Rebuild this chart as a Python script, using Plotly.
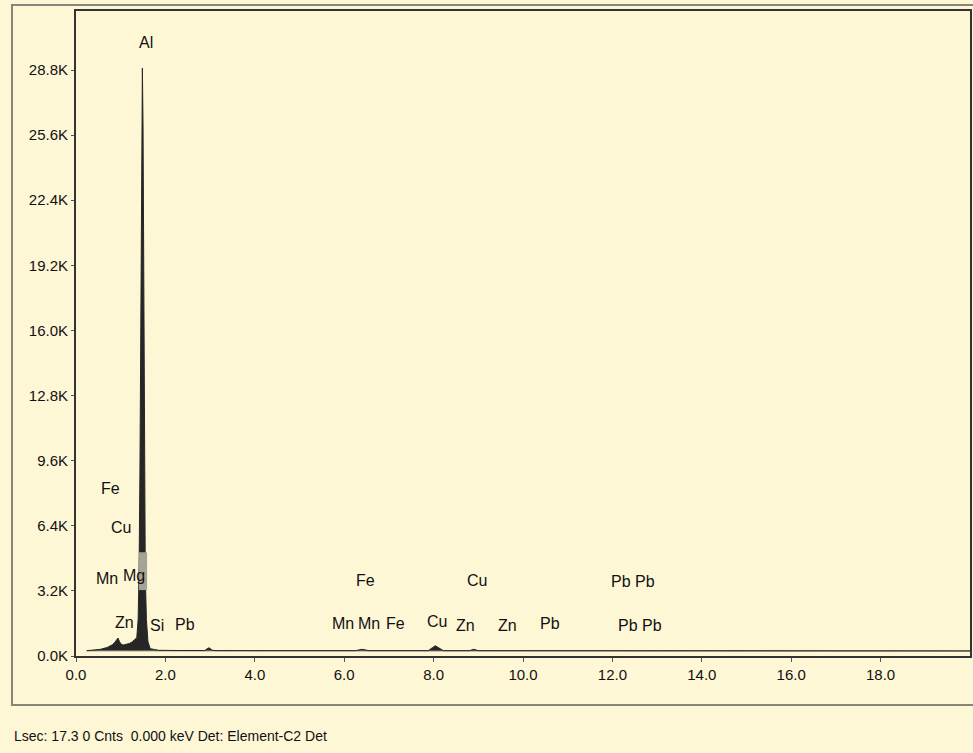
import plotly.graph_objects as go

# ---- data ----
energy_kev = [0.24, 0.40, 0.55, 0.70, 0.76, 0.82, 0.87, 0.91, 0.94, 0.97, 1.01, 1.06, 1.12,
              1.20, 1.26, 1.31, 1.36, 1.39, 1.41, 1.43, 1.45, 1.47, 1.485, 1.50, 1.52,
              1.535, 1.55, 1.575, 1.61, 1.66, 1.74, 1.85, 2.30, 2.88, 2.95, 2.98, 3.05,
              3.15, 6.25, 6.40, 6.55, 7.88, 7.98, 8.04, 8.10, 8.22, 8.80, 8.90, 9.00,
              12.0, 16.0, 20.0]
counts = [260, 290, 330, 420, 490, 560, 680, 820, 880, 720, 580, 540, 560,
          620, 700, 790, 900, 1800, 4000, 9000, 16000, 26000, 28900, 26000, 16000,
          9000, 4000, 1800, 700, 360, 310, 280, 270, 270, 380, 400, 280,
          265, 262, 330, 262, 262, 420, 500, 420, 262, 262, 330, 262,
          260, 255, 250]

background_kev = [0.24, 20.0]
background_counts = [255, 245]

x_tick_vals = [0, 2, 4, 6, 8, 10, 12, 14, 16, 18]
x_tick_text = ["0.0", "2.0", "4.0", "6.0", "8.0", "10.0", "12.0", "14.0", "16.0", "18.0"]
y_tick_vals = [0, 3200, 6400, 9600, 12800, 16000, 19200, 22400, 25600, 28800]
y_tick_text = ["0.0K", "3.2K", "6.4K", "9.6K", "12.8K", "16.0K", "19.2K", "22.4K", "25.6K", "28.8K"]

label_text = ["Al", "Fe", "Cu", "Mn", "Mg", "Zn", "Si", "Pb",
              "Fe", "Mn", "Mn", "Fe", "Cu", "Zn", "Cu", "Zn", "Pb",
              "Pb Pb", "Pb Pb"]
label_kev = [1.567, 0.761, 1.007, 0.694, 1.298, 1.075, 1.813, 2.440,
             6.47, 5.98, 6.56, 7.14, 8.08, 8.71, 8.98, 9.65, 10.61,
             12.45, 12.62]
label_counts = [30170, 8210, 6340, 3830, 3980, 1670, 1520, 1570,
                3730, 1620, 1620, 1620, 1720, 1520, 3730, 1520, 1620,
                3640, 1520]

status_text = "Lsec: 17.3 0 Cnts  0.000 keV Det: Element-C2 Det"

FONT = "Liberation Sans Narrow, Liberation Sans, Arial, sans-serif"
BG = "#FEF7D6"

fig = go.Figure()
fig.add_trace(go.Scatter(x=background_kev, y=background_counts, mode="lines",
                         line=dict(color="#6b6b60", width=1), hoverinfo="skip",
                         showlegend=False))
fig.add_trace(go.Scatter(x=energy_kev, y=counts, mode="lines", fill="tonexty",
                         fillcolor="#262626", line=dict(color="#262626", width=1),
                         showlegend=False))

for t, xv, yv in zip(label_text, label_kev, label_counts):
    fig.add_annotation(x=xv, y=yv, text=t, showarrow=False, xref="x", yref="y",
                       font=dict(family=FONT, size=16, color="#111111"))

fig.add_annotation(x=-0.0716, y=-0.124, xref="paper", yref="paper", text=status_text,
                   showarrow=False, xanchor="left", yanchor="middle",
                   font=dict(family=FONT, size=14, color="#111111"))

# Mg highlight box on the Al peak
fig.add_shape(type="rect", xref="x", yref="y", x0=1.41, x1=1.59, y0=3240, y1=5100,
              fillcolor="#A3A396", line=dict(width=0), layer="above")
# outer frame
fig.add_shape(type="rect", xref="paper", yref="paper", x0=-0.0716, x1=1.02,
              y0=-0.076, y1=1.0093, line=dict(color="#858578", width=2),
              fillcolor="rgba(0,0,0,0)", layer="below")

fig.update_layout(
    width=973, height=753,
    margin=dict(l=76, r=3, t=11, b=97),
    paper_bgcolor=BG, plot_bgcolor=BG,
    font=dict(family=FONT, size=15, color="#111111"),
    xaxis=dict(range=[0, 20], tickvals=x_tick_vals, ticktext=x_tick_text,
               showgrid=False, zeroline=False, showline=True, mirror=True,
               linecolor="#333333", linewidth=2, ticks="outside", ticklen=4,
               tickcolor="#555555", tickfont=dict(family=FONT, size=15),
               automargin=False),
    yaxis=dict(range=[0, 31700], tickvals=y_tick_vals, ticktext=y_tick_text,
               showgrid=False, zeroline=False, showline=True, mirror=True,
               linecolor="#333333", linewidth=2, ticks="outside", ticklen=3,
               tickcolor="#555555", tickfont=dict(family=FONT, size=15),
               automargin=False),
)

fig.write_html("out.html", config={"displayModeBar": False},
               post_script="document.body.style.margin='0';document.body.style.background='" + BG + "';")
